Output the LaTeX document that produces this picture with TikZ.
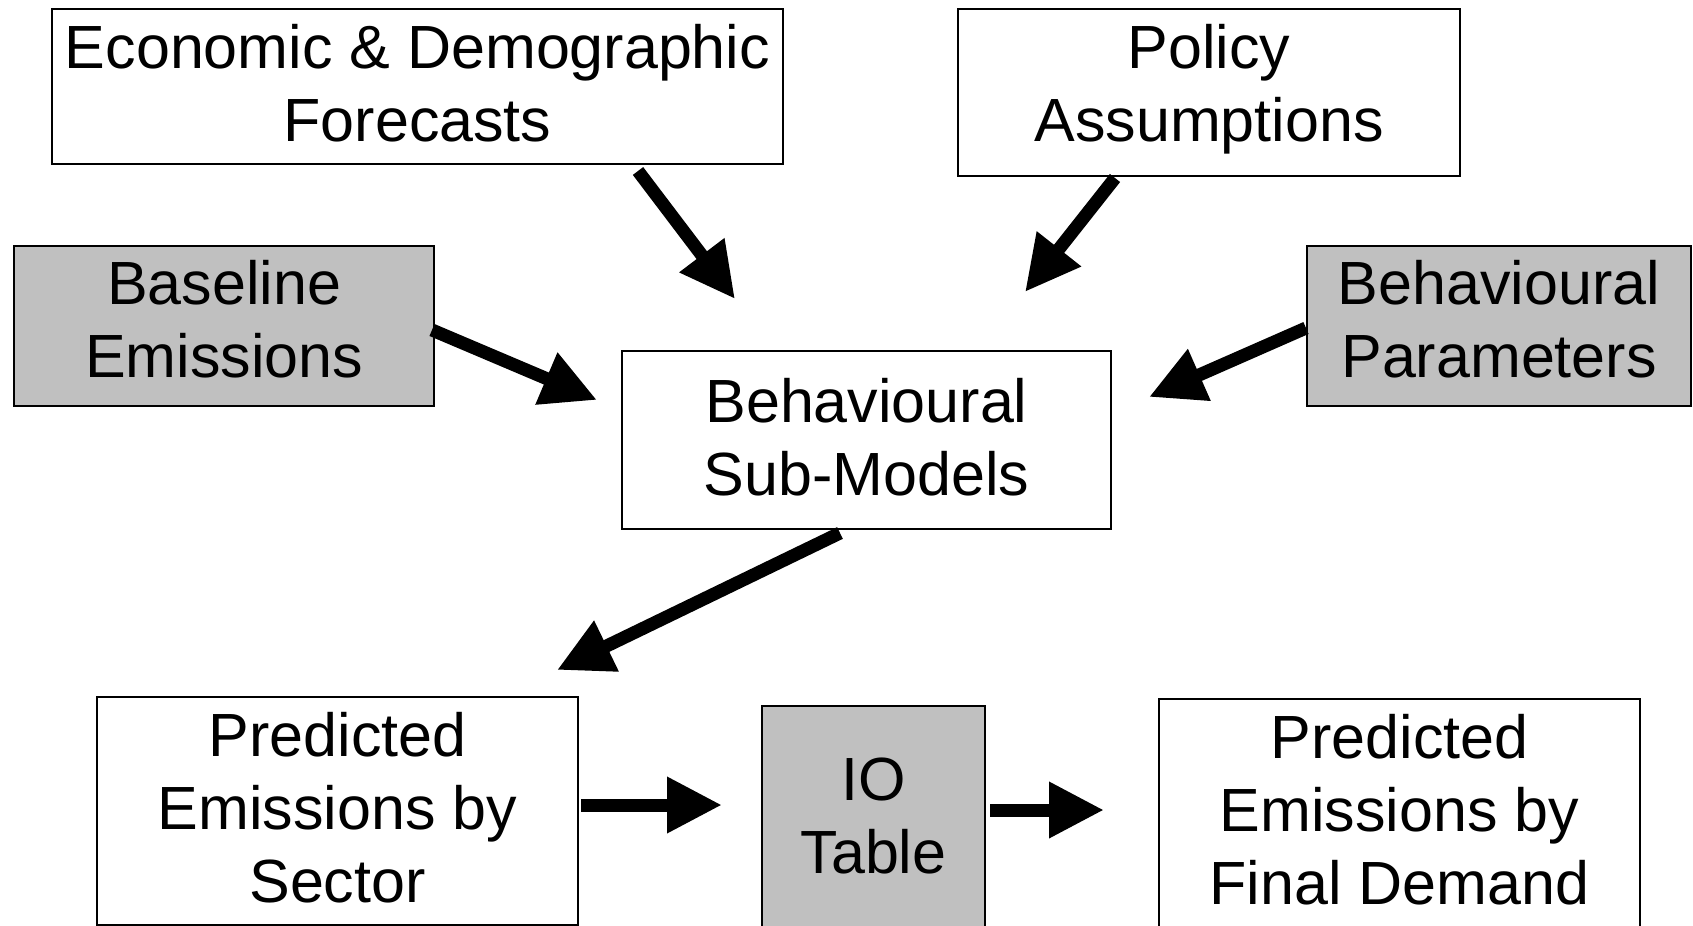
\documentclass[tikz,border=0pt]{standalone}
\usepackage{fontspec}
\setmainfont{Liberation Sans}
\usetikzlibrary{arrows.meta}
\definecolor{cqcqcq}{rgb}{0.7529,0.7529,0.7529}

\begin{document}
\begin{tikzpicture}[line join=miter,x=0.5pt,y=-0.5pt,
  box/.style={draw=black,line width=1pt,fill=white,align=center,inner sep=0pt,
    text depth=3.5pt,font=\fontsize{30.5}{36.5}\selectfont},
  shaded/.style={box,fill=cqcqcq},
  flow/.style={-{Triangle[length=27.5pt,width=26.5pt]},line width=6.5pt}]
\useasboundingbox (0,0) rectangle (1693,926);
\clip (0,0) rectangle (1693,926);
\node[box,minimum width=365.5pt,minimum height=77.5pt] (econ) at (417.5,86.5) {Economic \& Demographic\\Forecasts};
\node[box,text depth=10pt,minimum width=251pt,minimum height=83.5pt] (policy) at (1209,92.5) {Policy\\Assumptions};
\node[shaded,text depth=7.5pt,minimum width=210pt,minimum height=80pt] (base) at (224,326) {Baseline\\Emissions};
\node[shaded,text depth=7.5pt,minimum width=192pt,minimum height=80pt] (param) at (1499,326) {Behavioural\\Parameters};
\node[box,minimum width=244.5pt,minimum height=89pt] (sub) at (866.5,440) {Behavioural\\Sub-Models};
\node[box,minimum width=240.5pt,minimum height=114pt] (sector) at (337.5,811) {Predicted\\Emissions by\\Sector};
\node[shaded,minimum width=111.5pt,minimum height=113pt] (io) at (873.5,819) {IO\\Table};
\node[box,minimum width=240.5pt,minimum height=114pt] (final) at (1399.5,813) {Predicted\\Emissions by\\Final Demand};
\draw[flow] ([shift={(220.5,6)}]econ.south) -- ([shift={(-131.5,-51)}]sub.north);
\draw[flow] ([shift={(-94,1)}]policy.south) -- ([shift={(158.5,-58)}]sub.north);
\draw[flow] ([shift={(-3,4)}]base.east) -- ([shift={(-24,-40)}]sub.west);
\draw[flow] ([shift={(0,2)}]param.west) -- ([shift={(37,-43)}]sub.east);
\draw[flow] ([shift={(-26.5,3)}]sub.south) -- ([shift={(219.5,-26)}]sector.north);
\draw[flow] ([shift={(2,-6)}]sector.east) -- ([shift={(-39,-14)}]io.west);
\draw[flow] ([shift={(4,-9)}]io.east) -- ([shift={(-54,-3)}]final.west);
\end{tikzpicture}
\end{document}
